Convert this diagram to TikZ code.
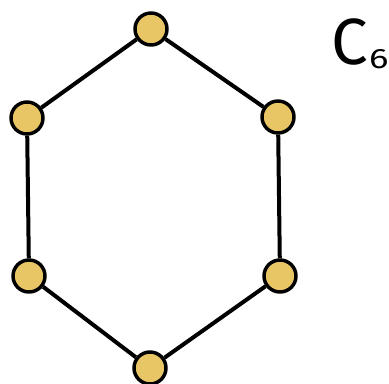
\documentclass[tikz,border=0pt]{standalone}
\usepackage{fontspec}
\setsansfont{Fira Sans}
\usepackage{xcolor}
\usepackage{tikz}
\definecolor{vertexfill}{HTML}{E8C666}

\begin{document}
\begin{tikzpicture}[x=0.75pt, y=-0.75pt, font=\sffamily,
    vertex/.style={draw, circle, line width=2.6pt, fill=vertexfill, minimum size=24pt, inner sep=0pt},
    edge/.style={line width=3pt}]
    \useasboundingbox (0,0) rectangle (389,383);

    \node[vertex] (top) at (151,29) {};
    \node[vertex] (ur) at (278,117) {};
    \node[vertex] (lr) at (280,276) {};
    \node[vertex] (bot) at (150,368) {};
    \node[vertex] (ll) at (29,276) {};
    \node[vertex] (ul) at (27,118) {};

    % graph name
    \node[anchor=base west, inner sep=0pt, font=\sffamily\fontsize{49}{49}\selectfont] (label) at (331,64)
        {C\kern1pt\raisebox{-3pt}{\scalebox{1.3}[1]{\fontsize{21}{21}\selectfont 6}}};

    \draw[edge] (top) -- (ur);
    \draw[edge] (ur) -- (lr);
    \draw[edge] (lr) -- (bot);
    \draw[edge] (bot) -- (ll);
    \draw[edge] (ll) -- (ul);
    \draw[edge] (ul) -- (top);
\end{tikzpicture}
\end{document}
